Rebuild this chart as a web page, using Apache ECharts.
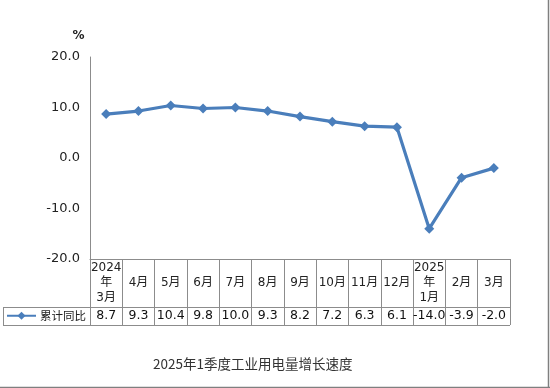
<!DOCTYPE html>
<html><head><meta charset="utf-8">
<script src="https://cdn.jsdelivr.net/npm/echarts@6/dist/echarts.min.js"></script>
<style>html,body{margin:0;padding:0;background:#fff}#c{width:550px;height:388px}</style>
</head><body><div id="c"></div>
<script>
const categories = ['2024\n年\n3月','4月','5月','6月','7月','8月','9月','10月','11月','12月','2025\n年\n1月','2月','3月'];
const values = [8.7, 9.3, 10.4, 9.8, 10.0, 9.3, 8.2, 7.2, 6.3, 6.1, -14.0, -3.9, -2.0];
const yTicks = [-20, -10, 0, 10, 20];
const seriesName = '累计同比';
const unitLabel = '%';
const titleText = '2025年1季度工业用电量增长速度';

const chart = echarts.init(document.getElementById('c'), null, {renderer:'canvas'});
const gray = '#8c8c8c';
const font = '"DejaVu Sans","Noto Sans CJK SC",sans-serif';
const L = 90, R = 510, T = 57, B = 259;
chart.setOption({
  animation:false,
  backgroundColor:'#fff',
  title:{text:titleText,left:153,top:357,padding:0,
    textStyle:{fontSize:13.5,fontWeight:'normal',color:'#333',fontFamily:'"Noto Sans CJK SC",sans-serif'}},
  legend:{show:true,left:6,top:310,padding:0,itemWidth:29,itemHeight:10,itemGap:4,
    textStyle:{fontSize:11.5,color:'#222',fontFamily:'"Noto Sans CJK SC",sans-serif',padding:[0,0,0,-1]},
    data:[seriesName]},
  grid:{left:L,right:550-R,top:T,bottom:388-B,containLabel:false},
  xAxis:[{
    type:'category',data:categories,boundaryGap:true,position:'bottom',
    axisLine:{show:true,onZero:false,lineStyle:{color:gray,width:1}},
    axisTick:{show:true,length:66,interval:0,lineStyle:{color:gray,width:1}},
    axisLabel:{interval:0,margin:24,verticalAlign:'middle',fontSize:12,lineHeight:15,color:'#222',fontFamily:font}
  },{
    type:'category',data:values.map(v=>v.toFixed(1)),boundaryGap:true,position:'bottom',offset:48,
    axisLine:{show:false,onZero:false},axisTick:{show:false},
    axisLabel:{interval:0,margin:9,verticalAlign:'middle',fontSize:12.5,color:'#111',fontFamily:font}
  }],
  yAxis:{type:'value',min:yTicks[0],max:yTicks[yTicks.length-1],interval:10,
    axisLine:{show:true,lineStyle:{color:gray,width:1}},
    axisTick:{show:false},splitLine:{show:false},
    axisLabel:{margin:10,fontSize:13,color:'#222',fontFamily:font,formatter:v=>v.toFixed(1)}
  },
  series:[{name:seriesName,type:'line',data:values,xAxisIndex:0,
    symbol:'diamond',symbolSize:10,
    lineStyle:{color:'#4a7ebb',width:3.2},itemStyle:{color:'#4a7ebb'}}],
  graphic:[
    {type:'text',x:78.5,y:36,style:{text:unitLabel,fontSize:12,fontWeight:'bold',fill:'#222',fontFamily:font,align:'center',verticalAlign:'middle'}},
    {type:'line',shape:{x1:3,y1:307.5,x2:R,y2:307.5},style:{stroke:gray,lineWidth:1}},
    {type:'line',shape:{x1:3,y1:325.5,x2:R,y2:325.5},style:{stroke:gray,lineWidth:1}},
    {type:'line',shape:{x1:3.5,y1:307,x2:3.5,y2:326},style:{stroke:gray,lineWidth:1}},
    {type:'line',shape:{x1:548.5,y1:0,x2:548.5,y2:388},style:{stroke:'#7f7f7f',lineWidth:1.5}},
    {type:'line',shape:{x1:0,y1:387.5,x2:550,y2:387.5},style:{stroke:'#7f7f7f',lineWidth:1.5}}
  ]
});
</script></body></html>
